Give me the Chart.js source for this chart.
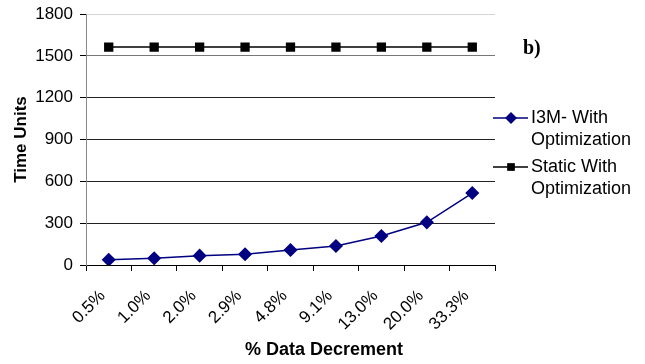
<!DOCTYPE html>
<html>
<head>
<meta charset="utf-8">
<script src="https://cdn.jsdelivr.net/npm/chart.js@4.4.0/dist/chart.umd.min.js"></script>
<style>
  html, body { margin: 0; padding: 0; background: #fff; }
  #wrap { width: 645px; height: 364px; position: relative; }
</style>
</head>
<body>
<div id="wrap"><canvas id="chart" width="645" height="364"></canvas></div>
<script>
const categories = ['0.5%', '1.0%', '2.0%', '2.9%', '4.8%', '9.1%', '13.0%', '20.0%', '33.3%'];
const i3mValues = [38, 48, 67, 77, 108, 136, 208, 306, 516];
const staticValues = [1563, 1563, 1563, 1563, 1563, 1563, 1563, 1563, 1563];
const yTicks = [0, 300, 600, 900, 1200, 1500, 1800];

const FONT = 'Liberation Sans, Arial, sans-serif';

// legend, panel tag and x title drawn by hand (legend needs two-line labels)
const extras = {
  id: 'extras',
  afterDraw(chart) {
    const ctx = chart.ctx;
    ctx.save();

    ctx.fillStyle = '#000';
    ctx.font = 'bold 20px "Liberation Serif", "Times New Roman", serif';
    ctx.textBaseline = 'middle';
    ctx.textAlign = 'left';
    ctx.fillText('b)', 523, 49);

    ctx.font = 'bold 18px ' + FONT;
    ctx.textAlign = 'center';
    ctx.fillText('% Data Decrement', 324, 350);

    const items = [
      { ds: chart.data.datasets[0], y: 118 },
      { ds: chart.data.datasets[1], y: 167 }
    ];
    ctx.font = '18px ' + FONT;
    ctx.textAlign = 'left';
    items.forEach(it => {
      ctx.strokeStyle = it.ds.borderColor;
      ctx.lineWidth = it.ds.borderWidth;
      ctx.beginPath();
      ctx.moveTo(493, it.y);
      ctx.lineTo(528, it.y);
      ctx.stroke();
      ctx.fillStyle = it.ds.pointBackgroundColor;
      const cx = 511, r = it.ds.pointRadius;
      if (it.ds.pointStyle === 'rectRot') {
        ctx.beginPath();
        ctx.moveTo(cx, it.y - r); ctx.lineTo(cx + r, it.y);
        ctx.lineTo(cx, it.y + r); ctx.lineTo(cx - r, it.y);
        ctx.closePath(); ctx.fill();
      } else {
        const s = r * 1.4;
        ctx.fillRect(cx - s / 2, it.y - s / 2, s, s);
      }
      ctx.fillStyle = '#000';
      const lines = it.ds.label.split('\n');
      lines.forEach((ln, k) => ctx.fillText(ln, 531, it.y + k * 22));
    });
    ctx.restore();
  }
};

new Chart(document.getElementById('chart'), {
  type: 'line',
  data: {
    labels: categories,
    datasets: [
      {
        label: 'I3M- With\nOptimization',
        data: i3mValues,
        borderColor: '#000080',
        backgroundColor: '#000080',
        pointBackgroundColor: '#000080',
        pointBorderColor: '#000080',
        pointStyle: 'rectRot',
        pointRadius: 6,
        borderWidth: 1.5,
        tension: 0
      },
      {
        label: 'Static With\nOptimization',
        data: staticValues,
        borderColor: '#000',
        backgroundColor: '#000',
        pointBackgroundColor: '#000',
        pointBorderColor: '#000',
        pointStyle: 'rect',
        pointRadius: 5.5,
        borderWidth: 1.5,
        tension: 0
      }
    ]
  },
  options: {
    responsive: false,
    animation: false,
    layout: { padding: { left: 0, right: 150, top: 14, bottom: 0 } },
    plugins: { legend: { display: false }, tooltip: { enabled: false } },
    scales: {
      x: {
        type: 'category',
        offset: true,
        grid: { offset: true, drawOnChartArea: false, drawTicks: true, tickLength: 6, color: '#000' },
        border: { color: '#000', width: 1 },
        ticks: { minRotation: 45, maxRotation: 45, color: '#000', font: { family: FONT, size: 17 }, padding: 15, labelOffset: -6 },
        afterFit(scale) { scale.height = 99; scale.paddingLeft = 0; scale.paddingRight = 0; }
      },
      y: {
        min: 0,
        max: 1800,
        afterBuildTicks(scale) { scale.ticks = yTicks.map(v => ({ value: v })); },
        grid: {
          drawTicks: true,
          tickLength: 6,
          color(c) {
            const v = c.tick && c.tick.value;
            if (v === 1800) return '#d4d4d4';
            if (v === 0) return 'rgba(0,0,0,0)';
            if (v === 1500) return '#777';
            return '#222';
          },
          tickColor: '#000'
        },
        border: { color: '#888', width: 1 },
        ticks: { color: '#000', font: { family: FONT, size: 17 }, padding: 7, callback: v => String(v) },
        title: { display: true, text: 'Time Units', color: '#000', font: { family: FONT, size: 17, weight: 'bold' }, padding: { top: 11, bottom: 0 } },
        afterFit(scale) { scale.width = 86; scale.paddingTop = 0; scale.paddingBottom = 0; }
      }
    }
  },
  plugins: [extras]
});
</script>
</body>
</html>
